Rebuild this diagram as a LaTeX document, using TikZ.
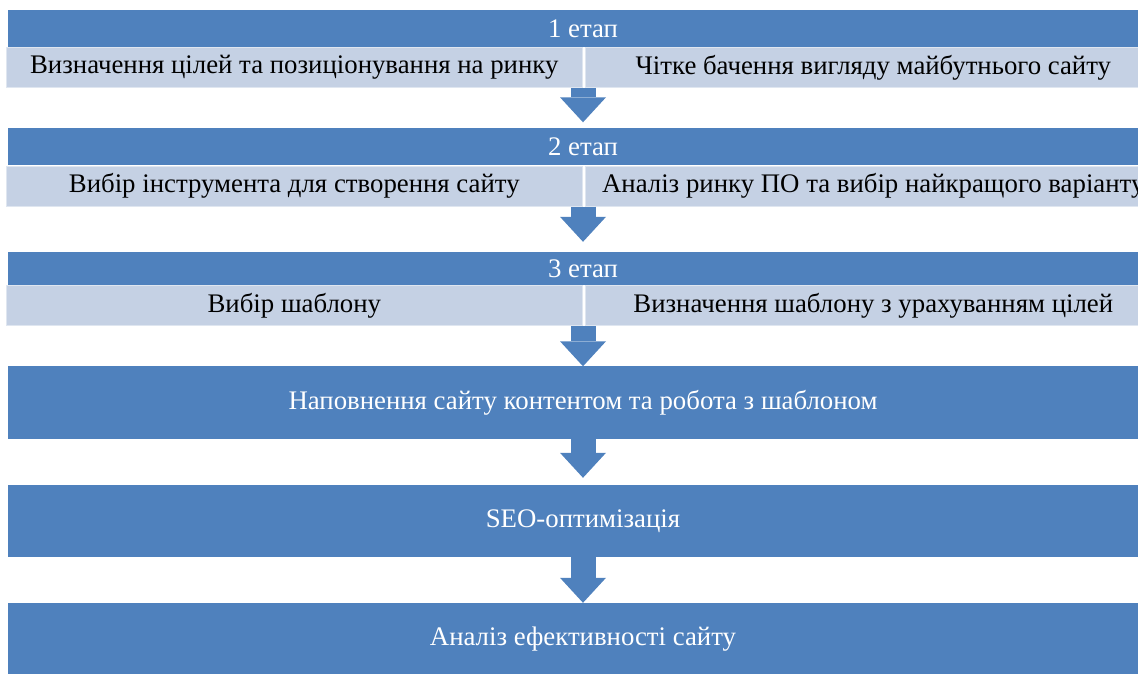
\documentclass[tikz,border=0pt]{standalone}
\usepackage{fontspec}
\setmainfont{Liberation Serif}
\usetikzlibrary{positioning,arrows.meta}
\definecolor{stageblue}{RGB}{79,129,189}
\definecolor{celllight}{RGB}{197,209,228}

\begin{document}
\begin{tikzpicture}[
    x=1pt, y=1pt,
    head/.style={fill=stageblue,text=white,minimum width=1150pt,minimum height=37pt,inner sep=0pt,font=\fontsize{26.8}{31}\selectfont},
    cell/.style={fill=celllight,draw=white!45!celllight,line width=1pt,minimum width=576pt,minimum height=40pt,inner sep=0pt,font=\fontsize{26.8}{31}\selectfont},
    bigbox/.style={head,minimum height=72pt},
    arr/.style={draw=stageblue,line width=25pt,-{Triangle[width=46pt,length=25pt,line width=0pt]}}
  ]
    \useasboundingbox (0,0) rectangle (1138,673);
    \clip (0,0) rectangle (1138,673);

    % Stage 1
    \node[head] (s1) at (583,644.5) {1 етап};
    \node[cell,anchor=north west] (s1l) at ([xshift=-2pt]s1.south west) {Визначення цілей та позиціонування на ринку};
    \node[cell,right=2pt of s1l] (s1r) {Чітке бачення вигляду майбутнього сайту};

    % Stage 2
    \node[head] (s2) at (583,526) {2 етап};
    \node[cell,anchor=north west] (s2l) at ([xshift=-2pt]s2.south west) {Вибір інструмента для створення сайту};
    \node[cell,right=2pt of s2l] (s2r) {Аналіз ринку ПО та вибір найкращого варіанту};

    % Stage 3
    \node[head,minimum height=33pt] (s3) at (583,404.5) {3 етап};
    \node[cell,anchor=north west] (s3l) at ([xshift=-2pt]s3.south west) {Вибір шаблону};
    \node[cell,right=2pt of s3l] (s3r) {Визначення шаблону з урахуванням цілей};

    % Final steps
    \node[bigbox] (content) at (583,270.5) {Наповнення сайту контентом та робота з шаблоном};
    \node[bigbox] (seo) at (583,152) {SEO-оптимізація};
    \node[bigbox] (eff) at (583,34) {Аналіз ефективності сайту};

    % Arrows
    \draw[arr,shorten >=6pt] (s1 |- s1l.south) -- (s2.north);
    \draw[arr,shorten >=10pt] (s2 |- s2l.south) -- (s3.north);
    \draw[arr] (s3 |- s3l.south) -- (content.north);
    \draw[arr,shorten >=7pt] (content.south) -- (seo.north);
    \draw[arr] (seo.south) -- (eff.north);
  \end{tikzpicture}
\end{document}
